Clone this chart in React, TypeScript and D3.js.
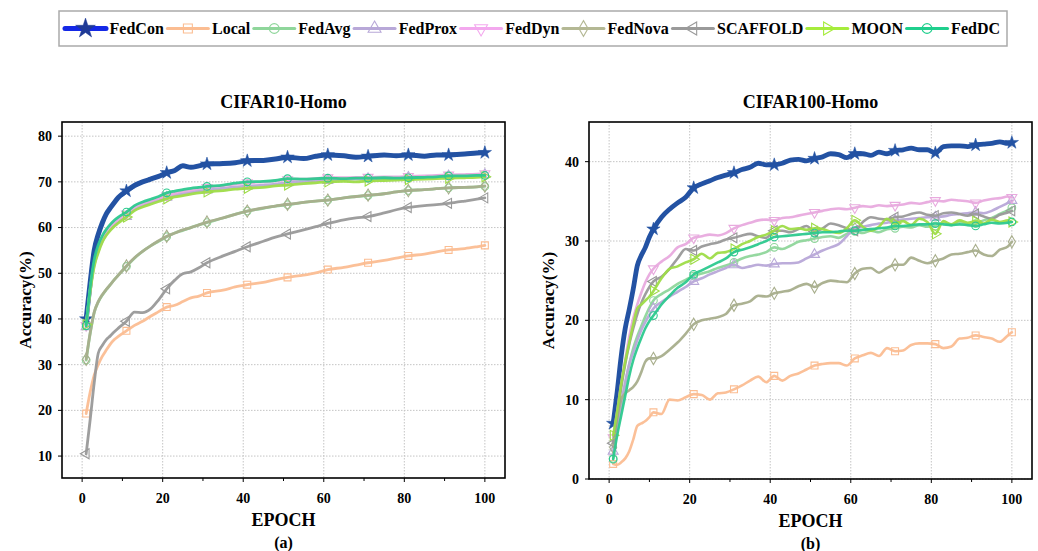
import React from 'react';
import * as d3 from 'd3';

// ---------- data ----------
const seriesNames = ['FedCon', 'Local', 'FedAvg', 'FedProx', 'FedDyn', 'FedNova', 'SCAFFOLD', 'MOON', 'FedDC'];
const lineColors = ['#2352a3', '#fbbd92', '#8fd69b', '#b8a8d8', '#e8aade', '#a8ae8c', '#999999', '#9edc48', '#2cc98e'];
const legendColors = ['#1428e6', '#fbbd92', '#8fd69b', '#b8a8d8', '#f3a8ee', '#b4b894', '#9a9a9a', '#a6ec3c', '#1fcf8d'];
const markerTypes = ['star', 'square', 'circle', 'triUp', 'triDown', 'diamond', 'triLeft', 'triRight', 'circle'];

const markerEpochs = [1, 11, 21, 31, 41, 51, 61, 71, 81, 91, 100];
const xTicks = [0, 20, 40, 60, 80, 100];
const xMinorTicks = [10, 30, 50, 70, 90];
const yTicksCifar10 = [10, 20, 30, 40, 50, 60, 70, 80];
const yTicksCifar100 = [0, 10, 20, 30, 40];

// CIFAR10-Homo
const epochs10 = [1, 2, 3, 4, 5, 6, 7, 8, 9, 11, 13, 15, 17, 19, 21, 23, 25, 27, 29, 31, 35, 38, 41, 45, 48, 51, 55, 58, 61, 65, 68, 71, 75, 78, 81, 85, 88, 91, 95, 98, 100];
const c10FedCon = [40.0, 48, 55, 58.5, 61, 63, 64.3, 65.5, 66.6, 68.0, 69.2, 70.0, 70.6, 71.2, 72.0, 72.5, 73.5, 73.2, 73.5, 73.9, 74.0, 74.2, 74.6, 74.7, 75.0, 75.4, 75.1, 75.6, 75.9, 75.7, 75.4, 75.6, 75.9, 75.7, 75.9, 75.6, 75.9, 75.9, 76.1, 76.3, 76.4];
const c10Local = [19.3, 24, 27.7, 30, 31.8, 33.2, 34.5, 35.5, 36.2, 37.4, 38.6, 39.5, 40.6, 41.6, 42.6, 43.0, 43.8, 44.6, 45.0, 45.7, 46.3, 47.0, 47.5, 48.0, 48.6, 49.1, 49.6, 50.1, 50.8, 51.3, 51.8, 52.3, 52.8, 53.3, 53.8, 54.2, 54.7, 55.1, 55.4, 55.8, 56.1];
const c10FedAvg = [31.0, 36.8, 41.4, 43.7, 45.2, 46.4, 47.5, 48.6, 49.6, 51.5, 53.3, 54.8, 56.0, 57.0, 58.0, 58.8, 59.4, 60.0, 60.6, 61.1, 62.1, 62.9, 63.6, 64.2, 64.7, 65.0, 65.5, 65.8, 66.0, 66.5, 66.8, 67.0, 67.4, 67.8, 68.1, 68.3, 68.5, 68.7, 68.8, 68.9, 69.0];
const c10FedProx = [38.3, 46.3, 51.8, 54.8, 57.0, 58.5, 59.6, 60.5, 61.3, 62.4, 64.0, 64.9, 65.5, 66.1, 66.6, 67.1, 67.4, 67.7, 68.0, 68.2, 68.6, 68.9, 69.1, 69.3, 69.5, 69.8, 70.0, 70.2, 70.3, 70.5, 70.6, 70.7, 70.8, 70.9, 71.0, 71.1, 71.2, 71.3, 71.4, 71.5, 71.6];
const c10FedDyn = [38.6, 46.5, 52.2, 55.3, 57.5, 59.0, 60.2, 61.1, 61.8, 63.0, 64.5, 65.3, 65.9, 66.4, 67.0, 67.5, 67.9, 68.2, 68.5, 68.8, 69.2, 69.5, 69.8, 70.0, 70.2, 70.5, 70.6, 70.7, 70.9, 70.9, 71.0, 71.0, 71.1, 71.1, 71.2, 71.3, 71.4, 71.5, 71.6, 71.7, 71.8];
const c10FedNova = [31.2, 37, 41.5, 43.8, 45.3, 46.5, 47.5, 48.6, 49.6, 51.6, 53.4, 54.8, 56.0, 57.1, 58.1, 58.8, 59.5, 60.0, 60.6, 61.2, 62.1, 62.9, 63.6, 64.3, 64.7, 65.1, 65.5, 65.8, 66.0, 66.5, 66.8, 67.1, 67.4, 67.8, 68.1, 68.3, 68.5, 68.7, 68.8, 68.9, 69.1];
const c10Scaffold = [10.5, 18, 26, 32.5, 34.2, 35.5, 36.3, 37.2, 38.0, 39.5, 41.5, 41.4, 42.2, 44.2, 46.6, 48.5, 49.9, 50.3, 51.2, 52.3, 53.8, 54.8, 55.8, 57.0, 57.9, 58.6, 59.5, 60.2, 60.9, 61.7, 62.1, 62.4, 63.2, 63.9, 64.4, 64.8, 65.0, 65.3, 65.8, 66.2, 66.5];
const c10Moon = [38.8, 46, 51.5, 54.5, 56.8, 58.3, 59.4, 60.3, 61.0, 62.3, 63.7, 64.5, 65.1, 65.7, 66.3, 66.7, 67.0, 67.3, 67.6, 67.8, 68.1, 68.4, 68.6, 68.8, 69.1, 69.3, 69.6, 69.8, 70.0, 70.1, 70.0, 70.2, 70.3, 70.4, 70.5, 70.6, 70.7, 70.8, 70.9, 71.0, 71.1];
const c10FedDC = [38.5, 47, 53, 56.2, 58.2, 59.6, 60.7, 61.6, 62.3, 63.4, 64.8, 65.6, 66.2, 66.8, 67.6, 68.0, 68.3, 68.6, 68.8, 69.0, 69.3, 69.7, 70.0, 70.1, 70.3, 70.7, 70.6, 70.7, 70.8, 70.7, 70.8, 70.8, 70.9, 70.8, 70.9, 71.0, 71.1, 71.3, 71.3, 71.4, 71.4];

// CIFAR100-Homo
const epochs100 = [1, 2, 3, 4, 5, 6, 7, 8, 9, 10, 11, 13, 15, 17, 19, 21, 23, 25, 27, 29, 31, 33, 35, 37, 39, 41, 43, 45, 47, 49, 51, 53, 55, 57, 59, 61, 63, 65, 67, 69, 71, 73, 75, 77, 79, 81, 83, 85, 87, 89, 91, 93, 95, 97, 99, 100];
const c100FedCon = [7.0, 11.0, 15.5, 19.0, 21.4, 24.0, 26.9, 28.2, 29.2, 30.5, 31.5, 33.0, 34.0, 34.8, 35.5, 36.7, 37.2, 37.6, 38.0, 38.3, 38.6, 39.0, 39.3, 39.8, 39.6, 39.6, 39.8, 40.2, 40.3, 40.1, 40.4, 40.6, 41.0, 40.9, 40.5, 41.0, 41.0, 40.8, 41.2, 41.0, 41.4, 41.5, 41.7, 41.5, 41.5, 41.1, 41.9, 42.0, 42.0, 41.9, 42.1, 42.2, 42.3, 42.5, 42.3, 42.4];
const c100Local = [1.9, 1.8, 2.1, 2.6, 3.5, 5.0, 6.7, 7.0, 7.3, 7.8, 8.4, 8.2, 10.0, 9.9, 10.3, 10.7, 10.6, 10.0, 10.8, 10.9, 11.3, 11.8, 12.4, 12.9, 12.2, 13.0, 12.4, 13.0, 13.3, 13.8, 14.3, 14.5, 14.6, 14.6, 14.3, 15.2, 15.6, 15.9, 15.5, 16.5, 16.1, 16.2, 16.9, 17.1, 17.1, 17.0, 16.5, 16.7, 17.7, 17.8, 18.1, 17.9, 17.7, 17.3, 18.1, 18.5];
const c100FedAvg = [2.6, 6.5, 9.0, 12.0, 14.5, 16.5, 18.0, 19.3, 20.5, 21.6, 22.5, 23.3, 23.9, 24.6, 25.1, 25.6, 25.9, 26.2, 26.6, 26.9, 27.3, 27.8, 28.1, 28.3, 28.6, 29.2, 29.0, 29.4, 29.9, 30.1, 30.3, 30.5, 30.6, 30.4, 30.9, 31.2, 31.0, 31.3, 31.1, 31.5, 31.6, 31.8, 31.7, 32.0, 31.8, 31.9, 32.3, 32.0, 32.4, 32.1, 32.2, 32.6, 32.9, 33.4, 33.9, 34.2];
const c100FedProx = [3.5, 6.0, 9.5, 12.2, 14.5, 16.0, 17.5, 18.8, 19.8, 20.7, 21.5, 22.3, 23.0, 23.6, 24.2, 24.9, 25.3, 25.8, 26.2, 26.6, 27.0, 26.6, 26.8, 27.0, 26.9, 27.1, 27.2, 27.2, 27.3, 27.8, 28.3, 28.8, 29.2, 29.6, 30.6, 31.6, 31.8, 32.0, 32.2, 32.3, 32.6, 32.7, 32.8, 32.9, 33.0, 33.0, 33.1, 33.3, 33.4, 33.5, 33.6, 33.5, 33.8, 34.3, 34.8, 35.1];
const c100FedDyn = [5.2, 8.5, 12.0, 15.0, 18.0, 20.3, 22.0, 23.5, 24.8, 25.8, 26.5, 27.4, 28.1, 29.2, 29.6, 30.4, 30.6, 30.8, 30.7, 31.0, 31.6, 32.0, 32.3, 32.6, 32.7, 32.6, 32.9, 33.0, 33.2, 33.4, 33.6, 33.8, 34.0, 34.1, 34.0, 34.2, 34.4, 34.3, 34.5, 34.4, 34.5, 34.6, 34.8, 34.7, 34.9, 35.1, 35.0, 35.2, 35.1, 35.0, 34.8, 35.1, 35.3, 35.4, 35.6, 35.5];
const c100FedNova = [4.0, 7.5, 10.0, 10.8, 11.2, 11.6, 12.3, 13.5, 14.8, 15.2, 15.2, 15.5, 16.3, 17.2, 18.3, 19.5, 20.0, 20.2, 20.4, 20.8, 21.9, 22.1, 22.4, 23.1, 23.0, 23.4, 23.6, 23.8, 24.3, 24.6, 24.2, 24.7, 25.0, 24.9, 24.8, 25.9, 26.5, 26.6, 26.0, 26.6, 27.0, 27.0, 27.9, 27.5, 27.2, 27.5, 27.8, 28.3, 28.4, 28.6, 28.8, 28.3, 28.1, 28.9, 29.3, 29.9];
const c100Scaffold = [4.5, 8.0, 11.5, 14.5, 17.0, 19.0, 20.8, 22.2, 23.3, 24.2, 24.9, 25.5, 26.5, 27.8, 29.0, 28.8, 29.3, 29.6, 29.8, 30.2, 30.4, 30.7, 30.9, 30.6, 30.4, 31.3, 31.3, 31.1, 31.5, 31.9, 31.2, 31.6, 32.2, 32.0, 31.6, 31.3, 32.4, 33.0, 32.8, 32.7, 33.0, 33.1, 33.4, 33.6, 33.3, 33.2, 33.5, 33.6, 33.4, 33.2, 33.4, 33.1, 32.8, 33.3, 33.6, 33.8];
const c100Moon = [5.5, 8.5, 12.0, 14.8, 17.2, 19.5, 21.5, 22.0, 22.5, 23.0, 23.7, 25.3, 26.5, 26.8, 27.3, 27.7, 28.4, 27.8, 28.5, 28.6, 29.0, 29.6, 30.0, 30.5, 30.8, 31.3, 31.9, 31.5, 31.6, 31.4, 31.6, 31.5, 31.2, 31.0, 31.6, 32.6, 31.8, 31.3, 31.8, 32.8, 32.2, 32.5, 32.0, 32.8, 32.4, 30.9, 32.5, 32.1, 32.6, 32.3, 32.5, 32.2, 32.7, 32.4, 32.6, 32.4];
const c100FedDC = [2.5, 5.5, 8.0, 10.5, 13.0, 15.0, 16.5, 17.8, 19.0, 19.9, 20.6, 22.0, 23.1, 24.1, 24.8, 25.8, 26.3, 26.8, 27.3, 27.8, 28.6, 28.9, 29.2, 29.6, 30.0, 30.5, 30.6, 30.7, 30.8, 30.9, 31.0, 31.1, 31.1, 31.2, 31.3, 31.3, 31.4, 31.5, 31.6, 31.7, 31.9, 31.9, 32.0, 32.1, 32.1, 32.2, 32.1, 32.0, 32.1, 32.0, 31.9, 32.1, 32.3, 32.2, 32.3, 32.4];

const cifar10Series = [c10FedCon, c10Local, c10FedAvg, c10FedProx, c10FedDyn, c10FedNova, c10Scaffold, c10Moon, c10FedDC];
const cifar100Series = [c100FedCon, c100Local, c100FedAvg, c100FedProx, c100FedDyn, c100FedNova, c100Scaffold, c100Moon, c100FedDC];

// ---------- helpers ----------
const FONT = '"Liberation Serif", "Times New Roman", serif';

function markerNode(type: string, size: number, color: string, key: string, tx: number, ty: number, legend = false) {
  let sym: any = d3.symbolCircle;
  let rot = 0;
  let area = size;
  switch (type) {
    case 'star': sym = d3.symbolStar; area = size * 1.1; break;
    case 'square': sym = d3.symbolSquare; area = size * 1.0; break;
    case 'circle': sym = d3.symbolCircle; area = size * 0.95; break;
    case 'diamond': sym = d3.symbolDiamond; area = size * 0.9; break;
    case 'triUp': sym = d3.symbolTriangle; area = size * 0.9; break;
    case 'triDown': sym = d3.symbolTriangle; rot = 180; area = size * 0.9; break;
    case 'triLeft': sym = d3.symbolTriangle; rot = -90; area = size * 0.9; break;
    case 'triRight': sym = d3.symbolTriangle; rot = 90; area = size * 0.9; break;
  }
  const d = d3.symbol().type(sym).size(area)() as string;
  const filled = type === 'star';
  return (
    <path
      key={key}
      d={d}
      transform={`translate(${tx},${ty}) rotate(${rot})`}
      fill={filled ? (legend ? '#1f3a96' : color) : 'none'}
      stroke={filled ? (legend ? '#1f3a96' : color) : color}
      strokeWidth={filled ? 0.5 : 1.1}
    />
  );
}

type PanelProps = {
  left: number; right: number; top: number; bottom: number;
  yDomain: [number, number]; yTicks: number[];
  epochs: number[]; series: number[][];
  title: string; sub: string; lineW: number; ylabelX: number;
};

function Panel(p: PanelProps) {
  const x = d3.scaleLinear().domain([-5, 105]).range([p.left, p.right]);
  const y = d3.scaleLinear().domain(p.yDomain).range([p.bottom, p.top]);
  const line = d3.line<[number, number]>().x(d => x(d[0])).y(d => y(d[1])).curve(d3.curveMonotoneX);
  const cx = (p.left + p.right) / 2;
  const cy = (p.top + p.bottom) / 2;
  const gridStyle = { stroke: '#c4c4c4', strokeWidth: 1, strokeDasharray: '1.5,1.5' };
  return (
    <g>
      {xTicks.map(t => (
        <line key={'gx' + t} x1={x(t)} x2={x(t)} y1={p.top} y2={p.bottom} {...gridStyle} />
      ))}
      {p.yTicks.map(t => (
        <line key={'gy' + t} x1={p.left} x2={p.right} y1={y(t)} y2={y(t)} {...gridStyle} />
      ))}
      {p.series.map((vals, si) => {
        const pts: [number, number][] = p.epochs.map((e, i) => [e, vals[i]]);
        const isCon = si === 0;
        return (
          <g key={'s' + si}>
            <path d={line(pts) as string} fill="none" stroke={lineColors[si]} strokeWidth={isCon ? p.lineW + 2.2 : p.lineW}
              strokeLinejoin="round" strokeLinecap="round" opacity={isCon ? 1 : 0.95} />
            {markerEpochs.map(me => {
              const idx = p.epochs.indexOf(me);
              if (idx < 0) return null;
              return markerNode(markerTypes[si], isCon ? 50 : 48, lineColors[si], 'm' + si + '-' + me, x(me), y(vals[idx]));
            })}
          </g>
        );
      })}
      <rect x={p.left} y={p.top} width={p.right - p.left} height={p.bottom - p.top} fill="none" stroke="#000" strokeWidth={1.6} />
      {xTicks.map(t => (
        <g key={'xt' + t}>
          <line x1={x(t)} x2={x(t)} y1={p.bottom} y2={p.bottom + 4} stroke="#000" strokeWidth={1} />
          <text x={x(t)} y={p.bottom + 25} textAnchor="middle" fontFamily={FONT} fontWeight="bold" fontSize={14}>{t}</text>
        </g>
      ))}
      {xMinorTicks.map(t => (
        <line key={'xm' + t} x1={x(t)} x2={x(t)} y1={p.bottom} y2={p.bottom + 3} stroke="#000" strokeWidth={1} />
      ))}
      {p.yTicks.map(t => (
        <g key={'yt' + t}>
          <line x1={p.left - 4} x2={p.left} y1={y(t)} y2={y(t)} stroke="#000" strokeWidth={1} />
          <text x={p.left - 10} y={y(t)} dy="0.35em" textAnchor="end" fontFamily={FONT} fontWeight="bold" fontSize={14}>{t}</text>
        </g>
      ))}
      <text x={cx} y={p.top - 14} textAnchor="middle" fontFamily={FONT} fontWeight="bold" fontSize={18}>{p.title}</text>
      <text x={cx} y={p.bottom + 48} textAnchor="middle" fontFamily={FONT} fontWeight="bold" fontSize={18}>EPOCH</text>
      <text x={cx} y={p.bottom + 70} textAnchor="middle" fontFamily={FONT} fontWeight="bold" fontSize={16}>{p.sub}</text>
      <text transform={`translate(${p.ylabelX},${cy}) rotate(-90)`} textAnchor="middle" dy="0.35em" fontFamily={FONT} fontWeight="bold" fontSize={17}>Accuracy(%)</text>
    </g>
  );
}

function measureText(t: string, font: string) {
  const c = document.createElement('canvas').getContext('2d');
  if (!c) return t.length * 9;
  c.font = font;
  return c.measureText(t).width;
}

function Legend() {
  const boxL = 59, boxR = 1007, boxT = 11, boxB = 46;
  const startX = 65, endX = 1000;
  const lineLen = 41;
  const font = 'bold 16px "Liberation Serif"';
  const widths = seriesNames.map(n => measureText(n, font));
  const total = widths.reduce((a, b) => a + b, 0) + lineLen * seriesNames.length;
  const gap = (endX - startX - total) / (seriesNames.length * 2 - 1);
  const cy = (boxT + boxB) / 2;
  let cur = startX;
  const items = seriesNames.map((n, i) => {
    const lx = cur;
    const tx = lx + lineLen + gap;
    cur = tx + widths[i] + gap;
    return { n, i, lx, tx };
  });
  return (
    <g>
      <rect x={boxL} y={boxT} width={boxR - boxL} height={boxB - boxT} fill="#fff" stroke="#aaaaaa" strokeWidth={1.5} />
      {items.map(it => (
        <g key={it.n}>
          <line x1={it.lx} x2={it.lx + lineLen} y1={cy} y2={cy} stroke={legendColors[it.i]} strokeWidth={it.i === 0 ? 5 : 3} strokeLinecap="round" />
          {markerNode(markerTypes[it.i], it.i === 0 ? 110 : 80, legendColors[it.i], 'lm' + it.i, it.lx + lineLen / 2, cy, true)}
          <text x={it.tx} y={cy} dy="0.33em" fontFamily={FONT} fontWeight="bold" fontSize={16}>{it.n}</text>
        </g>
      ))}
    </g>
  );
}

export default function App() {
  return (
    <svg width={1038} height={551} style={{ position: 'absolute', left: 0, top: 0, background: '#fff' }}>
      <rect x={0} y={0} width={1038} height={551} fill="#fff" />
      <Legend />
      <Panel left={62} right={505} top={122} bottom={478} yDomain={[5.2, 83.1]} yTicks={yTicksCifar10}
        epochs={epochs10} series={cifar10Series} title="CIFAR10-Homo" sub="(a)" lineW={2.8} ylabelX={25} />
      <Panel left={589} right={1032} top={122} bottom={479} yDomain={[0, 45]} yTicks={yTicksCifar100}
        epochs={epochs100} series={cifar100Series} title="CIFAR100-Homo" sub="(b)" lineW={2.6} ylabelX={548} />
    </svg>
  );
}
